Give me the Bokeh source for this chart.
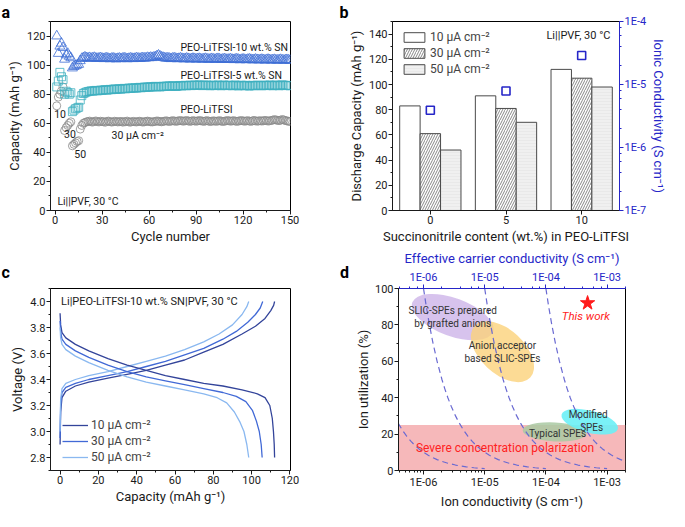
from bokeh.plotting import figure
from bokeh.models import (LogAxis, Range1d, LogScale, SingleIntervalTicker,
                          FixedTicker, CustomJSTickFormatter, ColumnDataSource, NumeralTickFormatter)
from bokeh.layouts import column, row
from bokeh.transform import dodge
from bokeh.embed import file_html
from bokeh.resources import INLINE
from bokeh.core.properties import value

FONT = "Roboto"
TXT = "#1a1a1a"
BLUE = "#2626c8"

# ---------------- panel a data ----------------
cycles = list(range(1, 151))
cap_peo = [72, 78, 80, 82, 85, 55, 57, 58.5, 60, 61, 44.5, 45.5, 46.5, 47.5, 48, 56, 58.5, 60, 60.5, 61,
           61.2, 61.5, 61.0, 60.8, 61.3, 61.6, 61.1, 60.9, 61.4, 61.2,
           61.0, 60.7, 61.3, 61.5, 61.1, 60.8, 61.0, 61.4, 61.2, 60.9,
           61.1, 61.3, 60.8, 61.0, 61.2, 61.5, 61.0, 60.7, 61.1, 61.3,
           61.0, 60.9, 61.2, 61.4, 61.1, 60.8, 61.0, 61.3, 61.5, 61.2,
           61.0, 60.9, 61.1, 61.3, 61.6, 61.4, 61.2, 61.0, 61.3, 61.5,
           61.7, 61.4, 61.2, 61.5, 61.8, 61.6, 61.3, 61.5, 61.7, 61.9,
           61.6, 61.4, 61.7, 61.9, 61.6, 61.3, 61.5, 61.8, 61.6, 61.4,
           61.6, 61.9, 61.7, 61.5, 61.3, 61.6, 61.8, 61.5, 61.2, 61.4,
           61.7, 61.5, 61.3, 61.6, 61.8, 61.5, 61.2, 61.4, 61.6, 61.9,
           61.7, 61.4, 61.6, 61.8, 61.5, 61.3, 61.5, 61.7, 61.9, 61.6,
           61.4, 61.6, 61.8, 61.5, 61.3, 61.6, 61.9, 61.7, 61.4, 61.6,
           61.8, 61.5, 61.7, 62.0, 61.8, 61.5, 61.7, 61.9, 62.2, 62.5,
           62.3, 62.0, 61.8, 62.1, 62.6, 62.3, 61.9, 61.6, 61.4, 61.2]
cap_sn5 = [85, 89, 95, 92, 90, 80, 82, 81, 80, 81, 68, 69, 70, 70.5, 71, 76, 79, 80.5, 81, 81.5,
           81.8, 82.0, 82.3, 82.1, 82.4, 82.6, 82.3, 82.5, 82.8, 82.6,
           82.9, 83.1, 82.8, 83.0, 83.3, 83.1, 83.4, 83.6, 83.3, 83.5,
           83.7, 83.5, 83.8, 84.0, 83.7, 83.9, 84.2, 84.0, 84.3, 84.1,
           84.4, 84.2, 84.5, 84.7, 84.4, 84.6, 84.9, 84.7, 85.0, 84.8,
           85.1, 84.9, 85.2, 85.4, 85.1, 85.3, 85.0, 85.2, 85.5, 85.3,
           85.6, 85.4, 85.7, 85.5, 85.8, 85.6, 85.3, 85.5, 85.8, 86.0,
           85.7, 85.9, 86.1, 85.8, 86.0, 86.2, 85.9, 86.1, 86.3, 86.0,
           86.2, 86.4, 86.1, 85.9, 86.2, 86.0, 86.3, 86.1, 85.8, 86.0,
           86.2, 85.9, 86.1, 86.3, 86.0, 85.8, 86.1, 86.3, 86.0, 85.9,
           86.2, 86.0, 85.8, 86.1, 86.3, 86.0, 85.7, 85.9, 86.2, 86.0,
           85.8, 86.1, 85.9, 85.6, 85.9, 86.1, 85.8, 86.0, 86.2, 85.9,
           86.1, 85.8, 86.0, 86.2, 85.9, 86.1, 86.3, 86.0, 85.8, 86.1,
           86.3, 86.0, 85.8, 86.1, 86.4, 86.2, 85.9, 86.1, 86.0, 85.8]
cap_sn10 = [120, 108, 113, 115, 112, 104, 107, 108, 106, 105, 98, 99, 99.5, 100, 100.5, 103, 104.5, 105, 105.5, 105,
            104.8, 105.1, 104.6, 104.9, 105.2, 104.7, 104.5, 104.8, 105.0, 104.6,
            104.4, 104.7, 104.9, 104.5, 104.3, 104.6, 104.8, 104.5, 104.2, 104.5,
            104.7, 104.4, 104.6, 104.9, 104.6, 104.3, 104.5, 104.8, 104.6, 104.4,
            104.6, 104.9, 104.7, 104.5, 104.8, 105.0, 104.7, 104.9, 105.2, 105.0,
            105.3, 105.1, 105.4, 105.7, 106.3, 106.8, 106.1, 105.5, 105.2, 104.9,
            104.7, 104.9, 104.6, 104.4, 104.7, 104.9, 104.6, 104.3, 104.5, 104.8,
            104.5, 104.2, 104.4, 104.7, 104.4, 104.1, 104.3, 104.6, 104.4, 104.1,
            104.3, 104.5, 104.2, 104.0, 104.3, 104.5, 104.2, 103.9, 104.1, 104.4,
            104.1, 103.9, 104.2, 104.4, 104.1, 103.8, 104.0, 104.3, 104.0, 103.8,
            104.0, 104.2, 103.9, 103.7, 104.0, 104.2, 103.9, 103.6, 103.8, 104.1,
            103.8, 103.6, 103.9, 104.1, 103.8, 103.5, 103.7, 104.0, 103.7, 103.5,
            103.7, 103.9, 103.6, 103.4, 103.7, 103.9, 103.6, 103.4, 103.6, 103.8,
            103.5, 103.3, 103.6, 103.8, 103.5, 103.3, 103.5, 103.7, 103.4, 103.2]

# ---------------- panel b data ----------------
sn_content = [0, 5, 10]
cap_10uA = [83, 91, 112]
cap_30uA = [61, 81, 105]
cap_50uA = [48, 70, 98]
ionic_cond = [3.9e-6, 7.9e-6, 2.9e-5]

# ---------------- panel c data ----------------
c10_ch_cap = [0, 0.3, 1, 3, 8, 15, 25, 35, 45, 55, 65, 75, 85, 95, 102, 107, 110, 111.5, 112]
c10_ch_v = [2.9, 3.15, 3.26, 3.31, 3.35, 3.38, 3.41, 3.44, 3.47, 3.51, 3.55, 3.61, 3.67, 3.75, 3.81, 3.87, 3.93, 3.97, 4.0]
c30_ch_cap = [0, 0.3, 1, 3, 8, 15, 25, 35, 45, 55, 65, 75, 85, 92, 98, 102, 104.5, 105.8]
c30_ch_v = [2.95, 3.2, 3.3, 3.34, 3.37, 3.4, 3.43, 3.46, 3.5, 3.54, 3.59, 3.64, 3.71, 3.77, 3.84, 3.9, 3.95, 4.0]
c50_ch_cap = [0, 0.3, 1, 3, 8, 15, 25, 35, 45, 55, 65, 75, 83, 90, 95, 97.5, 98.5]
c50_ch_v = [3.0, 3.25, 3.33, 3.37, 3.4, 3.43, 3.46, 3.5, 3.54, 3.58, 3.63, 3.69, 3.75, 3.82, 3.9, 3.96, 4.0]
c10_dis_cap = [0, 0.3, 1, 3, 8, 15, 25, 35, 45, 55, 65, 75, 85, 95, 103, 107, 109.5, 110.8, 111.4, 111.8, 112]
c10_dis_v = [3.91, 3.82, 3.76, 3.72, 3.67, 3.62, 3.56, 3.51, 3.47, 3.43, 3.4, 3.37, 3.35, 3.32, 3.29, 3.26, 3.2, 3.1, 3.0, 2.9, 2.8]
c30_dis_cap = [0, 0.3, 1, 3, 8, 15, 25, 35, 45, 55, 65, 75, 85, 92, 97, 100.5, 102.5, 104, 105, 105.5]
c30_dis_v = [3.85, 3.77, 3.71, 3.67, 3.62, 3.57, 3.51, 3.46, 3.42, 3.39, 3.36, 3.33, 3.3, 3.27, 3.23, 3.16, 3.08, 3.0, 2.9, 2.8]
c50_dis_cap = [0, 0.3, 1, 3, 8, 15, 25, 35, 45, 55, 65, 75, 82, 87, 91, 94, 96, 97.5, 98.5]
c50_dis_v = [3.8, 3.72, 3.67, 3.63, 3.58, 3.53, 3.47, 3.42, 3.38, 3.35, 3.32, 3.29, 3.26, 3.22, 3.15, 3.07, 3.0, 2.9, 2.8]

# ---------------- panel d data ----------------
eff_levels = [1e-7, 1e-6, 1e-5, 1e-4]
util_pts = [100, 90, 80, 70, 60, 50, 45, 40, 35, 30, 26, 22, 19, 16, 14, 12, 10, 8.5, 7, 6, 5, 4, 3, 2.5, 2, 1.5, 1]
ell_names = ["SLIC-SPEs prepared\nby grafted anions", "Anion acceptor\nbased SLIC-SPEs", "Typical SPEs", "Modified\nSPEs"]
ell_x = [3.0e-6, 1.95e-5, 1.39e-4, 5.2e-4]
ell_y = [84.3, 65.3, 21.2, 26.8]
this_work_x = [4.8e-4]
this_work_y = [92]


def mkfig(w, h, bl, br, bt, bb, **kw):
    p = figure(width=w, height=h, output_backend="svg", toolbar_location=None,
               min_border_left=bl, min_border_right=br, min_border_top=bt, min_border_bottom=bb, **kw)
    p.grid.visible = False
    p.outline_line_color = "black"
    p.outline_line_width = 1
    p.outline_line_alpha = 1
    return p


def style_axis(ax, color=TXT, label_size="13px", tick_size="11px"):
    ax.axis_line_color = color
    ax.major_tick_line_color = color
    ax.minor_tick_line_color = color
    ax.major_label_text_color = color
    ax.axis_label_text_color = color
    ax.major_label_text_font = FONT
    ax.axis_label_text_font = FONT
    ax.major_label_text_font_size = tick_size
    ax.axis_label_text_font_size = label_size
    ax.axis_label_text_font_style = "normal"
    ax.major_tick_out = 4
    ax.major_tick_in = 0
    ax.minor_tick_out = 2
    ax.minor_tick_in = 0
    ax.major_label_standoff = 1
    ax.axis_label_standoff = 2


def panel_title(p, txt, offset, standoff):
    p.title.text = txt
    p.title.align = "left"
    p.title.offset = offset
    p.title.standoff = standoff
    p.title.text_font = FONT
    p.title.text_font_size = "16px"
    p.title.text_font_style = "bold"
    p.title.text_color = "black"


def texts(p, xs, ys, ts, size="11px", color=TXT, align="left", baseline="middle", style="normal"):
    p.text(x=xs, y=ys, text=ts, text_font=value(FONT), text_font_size=size, text_color=color,
           text_align=align, text_baseline=baseline, text_font_style=style)


H1, H2 = 247, 264

# ================= panel a =================
pa = mkfig(330, H1, 50, 40, 21, 37, x_range=Range1d(-3, 150.3), y_range=Range1d(0, 130))
pa.scatter(cycles, cap_peo, marker="circle", size=8, fill_alpha=0, line_color="#8a8a8a", line_width=0.8)
pa.scatter(cycles, cap_sn5, marker="square", size=8, fill_alpha=0, line_color="#3fb0c0", line_width=0.8)
pa.scatter(cycles, cap_sn10, marker="triangle", size=10, fill_alpha=0, line_color="#3f6fd6", line_width=0.8)
texts(pa, [80, 80, 80], [112, 93, 69.5], ["PEO-LiTFSI-10 wt.% SN", "PEO-LiTFSI-5 wt.% SN", "PEO-LiTFSI"], size="10.5px")
texts(pa, [36], [51.5], ["30 µA cm⁻²"], size="10.5px")
texts(pa, [3.1, 9.4, 16], [66.6, 52.5, 38.7], ["10", "30", "50"], size="10.5px", align="center")
texts(pa, [1.4], [6.2], ["Li||PVF, 30 °C"], size="10.5px")
pa.xaxis.ticker = SingleIntervalTicker(interval=30, num_minor_ticks=2)
pa.yaxis.ticker = SingleIntervalTicker(interval=20, num_minor_ticks=2)
pa.xaxis.axis_label = "Cycle number"
pa.yaxis.axis_label = "Capacity (mAh g⁻¹)"
for ax in pa.axis:
    style_axis(ax)
panel_title(pa, "a", -49, 0)

# ================= panel b =================
pb = mkfig(339, H1, 62, 44, 21, 37, x_range=Range1d(-2.5, 12.5), y_range=Range1d(0, 150))
pb.extra_y_ranges = {"cond": Range1d(0.99e-7, 1.01e-4)}
pb.extra_y_scales = {"cond": LogScale()}
src_b = ColumnDataSource(dict(sn=sn_content, c10=cap_10uA, c30=cap_30uA, c50=cap_50uA, sig=ionic_cond))
bw = 1.35
pb.vbar(x=dodge("sn", -bw), top="c10", width=bw, source=src_b, fill_color="white",
        line_color="#4a4a4a", line_width=1, legend_label="10 µA cm⁻²")
pb.vbar(x=dodge("sn", 0), top="c30", width=bw, source=src_b, fill_color="white", hatch_pattern="/",
        hatch_color="#555555", hatch_weight=0.7, hatch_scale=5,
        line_color="#4a4a4a", line_width=1, legend_label="30 µA cm⁻²")
pb.vbar(x=dodge("sn", bw), top="c50", width=bw, source=src_b, fill_color="#f0f0f0", hatch_pattern="-",
        hatch_color="#e4e4e4", hatch_weight=0.6, hatch_scale=3,
        line_color="#4a4a4a", line_width=1, legend_label="50 µA cm⁻²")
pb.scatter(x="sn", y="sig", source=src_b, y_range_name="cond", marker="square", size=8,
           fill_alpha=0, line_color=BLUE, line_width=1.6)
texts(pb, [11.9], [138.5], ["Li||PVF, 30 °C"], size="11px", align="right")
pb.xaxis.ticker = FixedTicker(ticks=sn_content, minor_ticks=[])
pb.yaxis.ticker = SingleIntervalTicker(interval=20, num_minor_ticks=2)
pb.xaxis.axis_label = "Succinonitrile content (wt.%) in PEO-LiTFSI"
pb.yaxis.axis_label = "Discharge Capacity (mAh g⁻¹)"
for ax in pb.axis:
    style_axis(ax)
rax = LogAxis(y_range_name="cond", axis_label="Ionic Conductivity (S cm⁻¹)",
              formatter=CustomJSTickFormatter(code="return '1E' + Math.round(Math.log10(tick));"))
style_axis(rax, color=BLUE)
pb.add_layout(rax, "right")
lg = pb.legend[0]
lg.location = "top_left"
lg.border_line_alpha = 0
lg.background_fill_alpha = 0
lg.margin = 4
lg.padding = 5
lg.spacing = 2
lg.glyph_width = 26
lg.glyph_height = 12
lg.label_standoff = 3
lg.label_text_font = FONT
lg.label_text_font_size = "12px"
lg.label_height = 12
panel_title(pb, "b", -53, 0)

# ================= panel c =================
pc = mkfig(352, H2, 50, 62, 38, 37, x_range=Range1d(-5, 120.3), y_range=Range1d(2.7, 4.1))
col10, col30, col50 = "#33449a", "#4169d6", "#8ab8f0"
pc.line(c10_ch_cap, c10_ch_v, line_color=col10, line_width=1.3)
pc.line(c30_ch_cap, c30_ch_v, line_color=col30, line_width=1.3)
pc.line(c50_ch_cap, c50_ch_v, line_color=col50, line_width=1.3)
pc.line(c10_dis_cap, c10_dis_v, line_color=col10, line_width=1.3, legend_label="10 µA cm⁻²")
pc.line(c30_dis_cap, c30_dis_v, line_color=col30, line_width=1.3, legend_label="30 µA cm⁻²")
pc.line(c50_dis_cap, c50_dis_v, line_color=col50, line_width=1.3, legend_label="50 µA cm⁻²")
texts(pc, [0.5], [4.0], ["Li|PEO-LiTFSI-10 wt.% SN|PVF, 30 °C"], size="11px")
pc.xaxis.ticker = SingleIntervalTicker(interval=20, num_minor_ticks=2)
pc.yaxis.ticker = SingleIntervalTicker(interval=0.2, num_minor_ticks=2)
pc.yaxis.formatter = NumeralTickFormatter(format="0.0")
pc.xaxis.axis_label = "Capacity (mAh g⁻¹)"
pc.yaxis.axis_label = "Voltage (V)"
for ax in pc.axis:
    style_axis(ax)
lc = pc.legend[0]
lc.location = (8, 2)
lc.border_line_alpha = 0
lc.background_fill_alpha = 0
lc.margin = 0
lc.padding = 4
lc.spacing = 2
lc.glyph_width = 26
lc.glyph_height = 14
lc.label_height = 14
lc.label_standoff = 3
lc.label_text_font = FONT
lc.label_text_font_size = "12px"
# letters of panels c and d share one title line (panel d's top border holds its own axis)
panel_title(pc, "c" + "\u00a0" * 83 + "d", -49, 14)

# ================= panel d =================
pd_ = mkfig(317, H2, 40, 44, 38, 37, x_axis_type="log", x_range=Range1d(3.9e-7, 2.0e-3), y_range=Range1d(0, 100))
pd_.varea(x=[3.9e-7, 2.0e-3], y1=[0, 0], y2=[25, 25], fill_color="#f6b4b6", fill_alpha=0.95)
pd_.ellipse(x=ell_x, y=ell_y, width=[86, 76, 64, 58], height=[38, 44, 19, 22],
            angle=[-0.35, -0.75, -0.05, -0.25], width_units="screen", height_units="screen",
            fill_color=["#c6aae6", "#fbd27a", "#a9c9a2", "#6cf0f6"], fill_alpha=[0.7, 0.8, 0.85, 0.9],
            line_alpha=0)
for c in eff_levels:
    pd_.line([c * 100 / u for u in util_pts], util_pts, line_color="#6a6ad2", line_width=1.2, line_dash="6 4")
texts(pd_, [ell_x[0], ell_x[1]], [ell_y[0], ell_y[1]], ell_names[:2], size="10px", color="#333333", align="center")
texts(pd_, [1.55e-4], [20.5], [ell_names[2]], size="10px", color="#333333", align="center")
texts(pd_, [4.9e-4, 5.6e-4], [30.5, 23.5], ["Modified", "SPEs"], size="10px", color="#333333", align="center")
texts(pd_, [2.15e-5], [12.3], ["Severe concentration polarization"], size="12px", color="#ff2222", align="center")
pd_.scatter(this_work_x, this_work_y, marker="star", size=15, fill_color="#ff1a1a", line_color="#ff1a1a")
texts(pd_, [4.5e-4], [85], ["This work"], size="11.5px", color="#ff2222", align="center", style="italic")
pd_.yaxis.ticker = SingleIntervalTicker(interval=20, num_minor_ticks=2)
pd_.xaxis.formatter = CustomJSTickFormatter(code="""
const e = Math.round(Math.log10(tick)); const a = Math.abs(e);
return '1E' + (e < 0 ? '-' : '+') + (a < 10 ? '0' + a : '' + a);""")
pd_.xaxis.axis_label = "Ion conductivity (S cm⁻¹)"
pd_.yaxis.axis_label = "Ion utilization (%)"
for ax in pd_.axis:
    style_axis(ax)
pd_.yaxis.axis_label_standoff = 1
tax = LogAxis(axis_label="Effective carrier conductivity (S cm⁻¹)",
              formatter=CustomJSTickFormatter(code="""
const e = Math.round(Math.log10(tick)); const a = Math.abs(e);
return '1E' + (e < 0 ? '-' : '+') + (a < 10 ? '0' + a : '' + a);"""))
style_axis(tax, color=BLUE)
pd_.add_layout(tax, "above")

layout = column(row(pa, pb), row(pc, pd_))
open("out.html", "w").write(file_html(layout, INLINE))
